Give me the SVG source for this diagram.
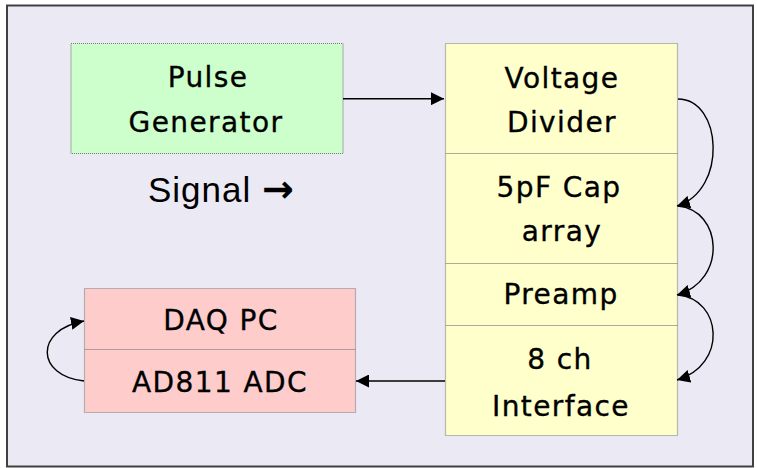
<svg xmlns="http://www.w3.org/2000/svg" width="757" height="468" viewBox="0 0 757 468">
<style>
.box{stroke:#7a7a7a;stroke-width:1.2;stroke-dasharray:1 1}
.g{fill:#ccffcc}.y{fill:#ffffcc}.p{fill:#ffcccc}
.t{font-family:"DejaVu Sans",sans-serif;font-size:28px;letter-spacing:1.4px;fill:#000;stroke:#000;stroke-width:0.35;text-anchor:middle}
.c{fill:none;stroke:#000;stroke-width:1.4}
</style>
<defs>
<marker id="ah" markerUnits="userSpaceOnUse" markerWidth="14" markerHeight="13" refX="13" refY="6.5" orient="auto">
<path d="M0,0 L13,6.5 L0,13 Z" fill="#000"/>
</marker>
</defs>
<rect x="7" y="5.5" width="746" height="461" fill="#ebe9f4" stroke="#404040" stroke-width="2"/>
<g id="pulse-generator">
<rect class="box g" x="71" y="43.5" width="272" height="110"/>
<text class="t" x="208" y="87">Pulse</text>
<text class="t" x="206" y="131.5">Generator</text>
</g>
<text x="148" y="202" font-family="Liberation Sans, Arial, sans-serif" font-size="35" letter-spacing="1">Signal <tspan font-family="DejaVu Sans, sans-serif" font-weight="bold" font-size="38">→</tspan></text>
<g id="voltage-divider">
<rect class="box y" x="445.5" y="43.5" width="232" height="110"/>
<text class="t" x="562" y="87.5">Voltage</text>
<text class="t" x="562" y="131.5">Divider</text>
</g>
<g id="cap-array">
<rect class="box y" x="445.5" y="153.5" width="232" height="110"/>
<text class="t" x="559" y="196.5">5pF Cap</text>
<text class="t" x="562" y="241">array</text>
</g>
<g id="preamp">
<rect class="box y" x="445.5" y="263.5" width="232" height="62"/>
<text class="t" x="561" y="303.5">Preamp</text>
</g>
<g id="interface">
<rect class="box y" x="445.5" y="325.5" width="232" height="110"/>
<text class="t" x="560" y="369">8 ch</text>
<text class="t" x="561" y="416">Interface</text>
</g>
<g id="daq-pc">
<rect class="box p" x="84.5" y="288.5" width="271" height="61"/>
<text class="t" x="221" y="330">DAQ PC</text>
</g>
<g id="adc">
<rect class="box p" x="84.5" y="349.5" width="271" height="63"/>
<text class="t" x="220" y="391.5">AD811 ADC</text>
</g>
<g id="connectors">
<path class="c" d="M343,98.7 L444,98.7" marker-end="url(#ah)"/>
<path class="c" d="M445,381 L356,381" marker-end="url(#ah)"/>
<path class="c" d="M678,99 C722,99 728,190 677,206" marker-end="url(#ah)"/>
<path class="c" d="M678,206 C722,210 728,280 677,295" marker-end="url(#ah)"/>
<path class="c" d="M678,295 C722,299 728,365 677,380" marker-end="url(#ah)"/>
<path class="c" d="M84,381 C36,376 34,330 84,321" marker-end="url(#ah)"/>
</g>
</svg>
